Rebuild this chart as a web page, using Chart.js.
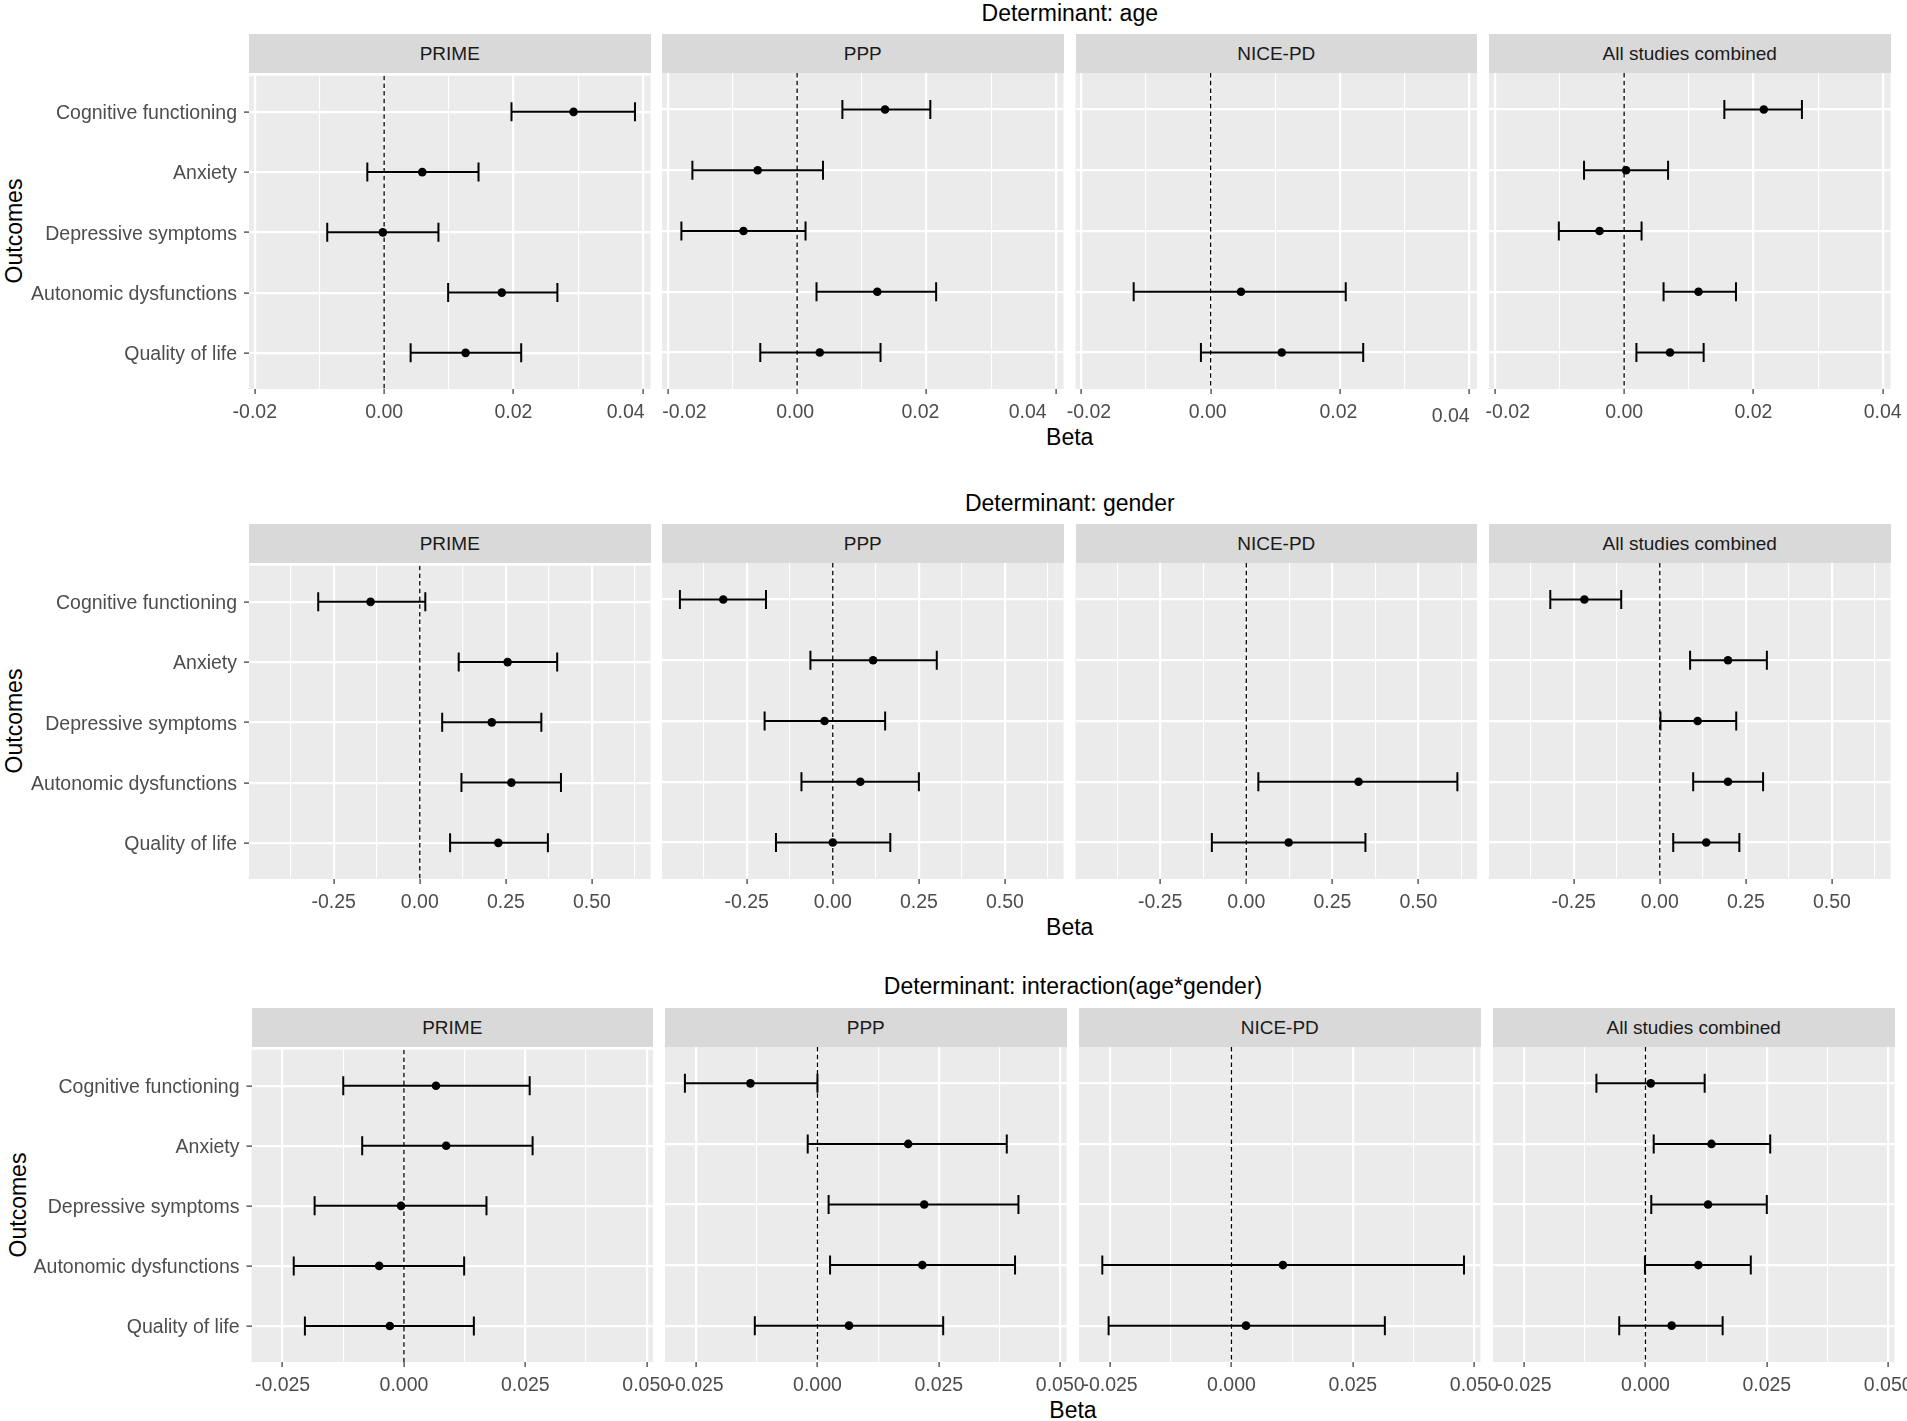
<!DOCTYPE html>
<html><head><meta charset="utf-8">
<script src="https://cdn.jsdelivr.net/npm/chart.js@4"></script>
<style>
html,body{margin:0;padding:0;background:#fff;}
body{width:1907px;height:1421px;position:relative;overflow:hidden;font-family:"Liberation Sans",Arial,sans-serif;}
.strip{position:absolute;background:#D9D9D9;color:#1A1A1A;font-size:19px;display:flex;align-items:center;justify-content:center;white-space:nowrap;}
.ctext{position:absolute;font-size:23px;color:#000;transform:translate(-50%,-50%);white-space:nowrap;line-height:1;}
.vtext{position:absolute;font-size:23px;color:#000;transform:translate(-50%,-50%) rotate(-90deg);white-space:nowrap;line-height:1;}
canvas{position:absolute;}
</style></head><body>
<script>
// ---------- DATA ----------
const outcomes = ["Cognitive functioning","Anxiety","Depressive symptoms","Autonomic dysfunctions","Quality of life"];
const studies = ["PRIME","PPP","NICE-PD","All studies combined"];
const determinants = ["age","gender","interaction(age*gender)"];

// Determinant: age
const agePrimeBeta = [0.0293, 0.0059, -0.0002, 0.0182, 0.0126];
const agePrimeLow  = [0.0197, -0.0026, -0.0088, 0.0099, 0.0041];
const agePrimeHigh = [0.0388, 0.0146, 0.0084, 0.0268, 0.0212];
const agePppBeta = [0.0136, -0.0061, -0.0083, 0.0124, 0.0035];
const agePppLow  = [0.0070, -0.0162, -0.0179, 0.0030, -0.0057];
const agePppHigh = [0.0206, 0.0040, 0.0013, 0.0215, 0.0129];
const ageNiceBeta = [null, null, null, 0.0047, 0.0110];
const ageNiceLow  = [null, null, null, -0.0119, -0.0015];
const ageNiceHigh = [null, null, null, 0.0209, 0.0236];
const ageAllBeta = [0.0216, 0.0003, -0.0038, 0.0115, 0.0071];
const ageAllLow  = [0.0155, -0.0062, -0.0101, 0.0061, 0.0019];
const ageAllHigh = [0.0275, 0.0068, 0.0027, 0.0173, 0.0123];

// Determinant: gender
const genderPrimeBeta = [-0.143, 0.255, 0.209, 0.266, 0.228];
const genderPrimeLow  = [-0.295, 0.113, 0.065, 0.121, 0.088];
const genderPrimeHigh = [0.016, 0.399, 0.353, 0.410, 0.372];
const genderPppBeta = [-0.318, 0.117, -0.024, 0.080, 0.000];
const genderPppLow  = [-0.444, -0.065, -0.198, -0.091, -0.165];
const genderPppHigh = [-0.194, 0.302, 0.152, 0.250, 0.167];
const genderNiceBeta = [null, null, null, 0.326, 0.123];
const genderNiceLow  = [null, null, null, 0.035, -0.100];
const genderNiceHigh = [null, null, null, 0.613, 0.346];
const genderAllBeta = [-0.219, 0.198, 0.110, 0.198, 0.135];
const genderAllLow  = [-0.318, 0.088, 0.002, 0.097, 0.039];
const genderAllHigh = [-0.112, 0.311, 0.222, 0.300, 0.231];

// Determinant: interaction(age*gender)
const interPrimeBeta = [0.0066, 0.0087, -0.0006, -0.0051, -0.0029];
const interPrimeLow  = [-0.0125, -0.0086, -0.0184, -0.0227, -0.0204];
const interPrimeHigh = [0.0259, 0.0265, 0.0170, 0.0124, 0.0144];
const interPppBeta = [-0.0138, 0.0187, 0.0220, 0.0216, 0.0065];
const interPppLow  = [-0.0273, -0.0020, 0.0023, 0.0026, -0.0129];
const interPppHigh = [0.0000, 0.0390, 0.0414, 0.0407, 0.0259];
const interNiceBeta = [null, null, null, 0.0106, 0.0030];
const interNiceLow  = [null, null, null, -0.0266, -0.0253];
const interNiceHigh = [null, null, null, 0.0479, 0.0316];
const interAllBeta = [0.0011, 0.0136, 0.0129, 0.0109, 0.0054];
const interAllLow  = [-0.0101, 0.0017, 0.0012, -0.0001, -0.0054];
const interAllHigh = [0.0122, 0.0257, 0.0250, 0.0217, 0.0159];

// Tick labels / axis ranges
const ageMajorTicks = [-0.02, 0, 0.02, 0.04];
const ageTickLabels = ["-0.02", "0.00", "0.02", "0.04"];
const ageMinorTicks = [-0.01, 0.01, 0.03];
const ageRange = [-0.0209, 0.0412];
const genderMajorTicks = [-0.25, 0, 0.25, 0.5];
const genderTickLabels = ["-0.25", "0.00", "0.25", "0.50"];
const genderMinorTicks = [-0.375, -0.125, 0.125, 0.375, 0.625];
const genderRange = [-0.496, 0.670];
const interMajorTicks = [-0.025, 0, 0.025, 0.05];
const interTickLabels = ["-0.025", "0.000", "0.025", "0.050"];
const interMinorTicks = [-0.0125, 0.0125, 0.0375];
const interRange = [-0.0314, 0.0513];

// ---------- ASSEMBLY ----------
const rows = [
  { det: determinants[0],
    beta: [agePrimeBeta, agePppBeta, ageNiceBeta, ageAllBeta],
    low: [agePrimeLow, agePppLow, ageNiceLow, ageAllLow],
    high: [agePrimeHigh, agePppHigh, ageNiceHigh, ageAllHigh],
    major: ageMajorTicks, labels: ageTickLabels, minor: ageMinorTicks, range: ageRange },
  { det: determinants[1],
    beta: [genderPrimeBeta, genderPppBeta, genderNiceBeta, genderAllBeta],
    low: [genderPrimeLow, genderPppLow, genderNiceLow, genderAllLow],
    high: [genderPrimeHigh, genderPppHigh, genderNiceHigh, genderAllHigh],
    major: genderMajorTicks, labels: genderTickLabels, minor: genderMinorTicks, range: genderRange },
  { det: determinants[2],
    beta: [interPrimeBeta, interPppBeta, interNiceBeta, interAllBeta],
    low: [interPrimeLow, interPppLow, interNiceLow, interAllLow],
    high: [interPrimeHigh, interPppHigh, interNiceHigh, interAllHigh],
    major: interMajorTicks, labels: interTickLabels, minor: interMinorTicks, range: interRange }
];

// layout (pixels). labelDx/labelDy: per-panel nudges of the tick labels, as in the source figure's first row
const layoutRows = [
  { title: 13,  stripTop: 34,   plotTop: 73,   plotBot: 388.5, beta: 437,  lefts: [249, 662, 1075.5, 1489], outX: 14,
    labelDx: [[0, 0, 0, -17], [16.6, -2, -6, -28], [7.6, -3, -1.5, -18.6], [13, 0, 0, 0]],
    labelDy: [[0, 0, 0, 0], [0, 0, 0, 0], [0, 0, 0, 3.5], [0, 0, 0, 0]] },
  { title: 503, stripTop: 524,  plotTop: 563,  plotBot: 878.5, beta: 927,  lefts: [249, 662, 1075.5, 1489], outX: 14,
    labelDx: null, labelDy: null },
  { title: 986, stripTop: 1008, plotTop: 1047, plotBot: 1362,  beta: 1410, lefts: [251.5, 665, 1079, 1493], outX: 17.5,
    labelDx: null, labelDy: null }
];
const panelW = 401.5;
const xAxisH = 45;
const sidePad = 40;
const topPad = 16;
const tickFontSize = 19.5;
const fontFamily = '"Liberation Sans", Arial, sans-serif';

Chart.defaults.font.family = fontFamily;

const bgPlugin = {
  id: 'panelBg',
  beforeDraw(chart) {
    const a = chart.chartArea, ctx = chart.ctx;
    ctx.save();
    ctx.fillStyle = '#EBEBEB';
    ctx.fillRect(a.left, a.top, a.right - a.left, a.bottom - a.top);
    ctx.restore();
  }
};

// draws nudged x tick labels, positioned through the x scale
const shiftedLabelPlugin = {
  id: 'shiftedLabel',
  afterDraw(chart, args, opts) {
    if (!opts || !opts.items || !opts.items.length) return;
    const sx = chart.scales.x, ctx = chart.ctx;
    ctx.save();
    ctx.font = tickFontSize + 'px ' + fontFamily;
    ctx.fillStyle = '#4D4D4D';
    ctx.textAlign = 'center';
    ctx.textBaseline = 'middle';
    opts.items.forEach(it => {
      const x = sx.getPixelForValue(it.value) + it.dx;
      const y = sx.top + 5 + 7 + tickFontSize * 1.2 / 2 + it.dy;
      ctx.fillText(it.text, x, y);
    });
    ctx.restore();
  }
};

function addText(cls, txt, x, y) {
  const d = document.createElement('div');
  d.className = cls; d.textContent = txt;
  d.style.left = x + 'px'; d.style.top = y + 'px';
  document.body.appendChild(d);
}

rows.forEach((row, r) => {
  const L = layoutRows[r];
  const centerX = (L.lefts[0] + L.lefts[3] + panelW) / 2;
  addText('ctext', 'Determinant: ' + row.det, centerX, L.title);
  addText('ctext', 'Beta', centerX, L.beta);
  addText('vtext', 'Outcomes', L.outX, (L.plotTop + L.plotBot) / 2);

  const isMajor = v => row.major.some(m => Math.abs(m - v) < 1e-9);
  const allTicks = row.major.concat(row.minor).slice().sort((a, b) => a - b);

  studies.forEach((study, c) => {
    const s = document.createElement('div');
    s.className = 'strip'; s.textContent = study;
    s.style.left = L.lefts[c] + 'px'; s.style.top = L.stripTop + 'px';
    s.style.width = panelW + 'px'; s.style.height = (L.plotTop - L.stripTop) + 'px';
    document.body.appendChild(s);

    const first = c === 0;
    const cvLeft = first ? 0 : Math.floor(L.lefts[c] - sidePad);
    const padLeft = first ? 0 : L.lefts[c] - cvLeft;
    const cvW = Math.ceil((L.lefts[c] + panelW + sidePad) - cvLeft);
    const padRight = cvW - (L.lefts[c] + panelW - cvLeft);
    const cvTop = Math.floor(L.plotTop) - topPad;
    const plotH = L.plotBot - L.plotTop;
    const cvH = Math.ceil(L.plotTop - cvTop + plotH + xAxisH);

    const cv = document.createElement('canvas');
    cv.width = cvW; cv.height = cvH;
    cv.style.left = cvLeft + 'px'; cv.style.top = cvTop + 'px';
    cv.style.width = cvW + 'px'; cv.style.height = cvH + 'px';
    document.body.appendChild(cv);

    // which major labels are nudged in this panel
    const nudgedItems = [];
    const nudgedIdx = new Set();
    if (L.labelDx) {
      row.major.forEach((m, k) => {
        const dx = L.labelDx[c][k], dy = L.labelDy[c][k];
        if (dx !== 0 || dy !== 0) { nudgedIdx.add(k); nudgedItems.push({ text: row.labels[k], value: m, dx, dy }); }
      });
    }

    const b = row.beta[c], lo = row.low[c], hi = row.high[c];
    const datasets = [];
    datasets.push({ data: [{x: 0, y: -0.6}, {x: 0, y: 4.6}], showLine: true, pointRadius: 0,
      borderColor: '#000', borderWidth: 1.3, borderDash: [4.5, 3.2], order: 4 });
    outcomes.forEach((o, i) => {
      if (b[i] === null) return;
      datasets.push({ data: [{x: lo[i], y: i}, {x: hi[i], y: i}], showLine: true, pointRadius: 0,
        borderColor: '#000', borderWidth: 2, order: 3 });
    });
    const caps = [];
    outcomes.forEach((o, i) => { if (b[i] !== null) { caps.push({x: lo[i], y: i}); caps.push({x: hi[i], y: i}); } });
    datasets.push({ data: caps, pointStyle: 'line', rotation: 90, pointRadius: 9.5,
      borderColor: '#000', borderWidth: 2, order: 2 });
    const pts = [];
    outcomes.forEach((o, i) => { if (b[i] !== null) pts.push({x: b[i], y: i}); });
    datasets.push({ data: pts, pointStyle: 'circle', pointRadius: 4.3, backgroundColor: '#000',
      borderColor: '#000', borderWidth: 0, order: 1 });

    new Chart(cv, {
      type: 'scatter',
      data: { datasets },
      plugins: [bgPlugin, shiftedLabelPlugin],
      options: {
        responsive: false, animation: false, events: [], devicePixelRatio: 1,
        layout: { autoPadding: false, padding: { left: padLeft, right: padRight, top: L.plotTop - cvTop, bottom: 0 } },
        plugins: {
          legend: { display: false }, tooltip: { enabled: false }, title: { display: false },
          shiftedLabel: { items: nudgedItems }
        },
        scales: {
          x: {
            type: 'linear', min: row.range[0], max: row.range[1],
            afterBuildTicks: sc => { sc.ticks = allTicks.map(v => ({ value: v })); },
            afterFit: sc => { sc.height = xAxisH; },
            border: { display: false },
            grid: {
              color: '#FFFFFF',
              lineWidth: ctx => (ctx.tick && isMajor(ctx.tick.value)) ? 2.2 : 1.1,
              drawTicks: true, tickLength: 5, tickWidth: 1.2,
              tickColor: ctx => (ctx.tick && isMajor(ctx.tick.value)) ? '#333333' : 'rgba(0,0,0,0)'
            },
            ticks: {
              autoSkip: false, maxRotation: 0, padding: 7, color: '#4D4D4D',
              font: { size: tickFontSize },
              callback: v => {
                const k = row.major.findIndex(m => Math.abs(m - v) < 1e-9);
                if (k < 0 || nudgedIdx.has(k)) return '';
                return row.labels[k];
              }
            }
          },
          y: {
            type: 'linear', reverse: true, min: -0.6, max: 4.6,
            afterBuildTicks: sc => { sc.ticks = outcomes.map((o, i) => ({ value: i })); },
            afterFit: sc => { sc.width = first ? L.lefts[0] : 0; },
            border: { display: false },
            grid: { color: '#FFFFFF', lineWidth: 2.2, drawTicks: first, tickLength: 5, tickWidth: 1.2, tickColor: '#333333' },
            ticks: {
              display: first, autoSkip: false, padding: 7, color: '#4D4D4D', labelOffset: 2,
              font: { size: tickFontSize },
              callback: v => outcomes[Math.round(v)]
            }
          }
        }
      }
    });
  });
});
</script>
</body></html>
